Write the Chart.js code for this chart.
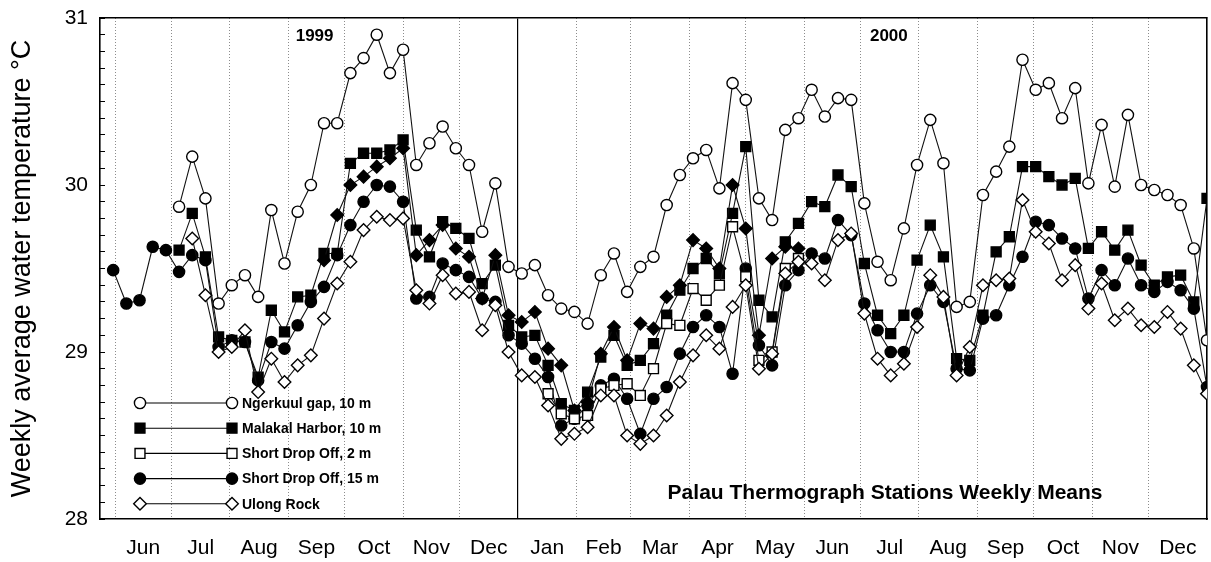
<!DOCTYPE html>
<html><head><meta charset="utf-8">
<script src="https://cdn.jsdelivr.net/npm/chart.js@4/dist/chart.umd.min.js"></script>
<style>html,body{margin:0;padding:0;background:#fff;}#wrap{position:relative;width:1211px;height:562px;}</style>
</head><body><div id="wrap"><canvas id="c" width="1211" height="562"></canvas></div>
<script>
// ---------- data ----------
const weekDates = [
 '1999-05-31','1999-06-07','1999-06-14','1999-06-21','1999-06-28','1999-07-05','1999-07-12','1999-07-19','1999-07-26',
 '1999-08-02','1999-08-09','1999-08-16','1999-08-23','1999-08-30','1999-09-06','1999-09-13','1999-09-20','1999-09-27',
 '1999-10-04','1999-10-11','1999-10-18','1999-10-25','1999-11-01','1999-11-08','1999-11-15','1999-11-22','1999-11-29',
 '1999-12-06','1999-12-13','1999-12-20','1999-12-27','2000-01-03','2000-01-10','2000-01-17','2000-01-24','2000-01-31',
 '2000-02-07','2000-02-14','2000-02-21','2000-02-28','2000-03-06','2000-03-13','2000-03-20','2000-03-27','2000-04-03',
 '2000-04-10','2000-04-17','2000-04-24','2000-05-01','2000-05-08','2000-05-15','2000-05-22','2000-05-29','2000-06-05',
 '2000-06-12','2000-06-19','2000-06-26','2000-07-03','2000-07-10','2000-07-17','2000-07-24','2000-07-31','2000-08-07',
 '2000-08-14','2000-08-21','2000-08-28','2000-09-04','2000-09-11','2000-09-18','2000-09-25','2000-10-02','2000-10-09',
 '2000-10-16','2000-10-23','2000-10-30','2000-11-06','2000-11-13','2000-11-20','2000-11-27','2000-12-04','2000-12-11',
 '2000-12-18','2000-12-25','2001-01-01'];

const monthStarts = ['1999-06-01','1999-07-01','1999-08-01','1999-09-01','1999-10-01','1999-11-01','1999-12-01',
 '2000-01-01','2000-02-01','2000-03-01','2000-04-01','2000-05-01','2000-06-01','2000-07-01','2000-08-01','2000-09-01',
 '2000-10-01','2000-11-01','2000-12-01','2001-01-01'];
const monthLabels = ['Jun','Jul','Aug','Sep','Oct','Nov','Dec','Jan','Feb','Mar','Apr','May','Jun','Jul','Aug','Sep','Oct','Nov','Dec'];
const yearLabels = ['1999','2000'];
const yearLabelDates = ['1999-09-15','2000-07-16'];
const yearBreakDate = '2000-01-01';
const yMajorTicks = [28,29,30,31];
const chartTitle = 'Palau Thermograph Stations Weekly Means';
const chartTitleDate = '2000-07-14';
const yTitle = 'Weekly average water temperature °C';

const ngerkuul = [null,null,null,null,null,29.87,30.17,29.92,29.29,29.40,29.46,29.33,29.85,29.53,29.84,30.00,30.37,30.37,
 30.67,30.76,30.90,30.67,30.81,30.12,30.25,30.35,30.22,30.12,29.72,30.01,29.51,29.47,29.52,29.34,29.26,29.24,29.17,29.46,
 29.59,29.36,29.51,29.57,29.88,30.06,30.16,30.21,29.98,30.61,30.51,29.92,29.79,30.33,30.40,30.57,30.41,30.52,30.51,29.89,
 29.54,29.43,29.74,30.12,30.39,30.13,29.27,29.30,29.94,30.08,30.23,30.75,30.57,30.61,30.40,30.58,30.01,30.36,29.99,30.42,
 30.00,29.97,29.94,29.88,29.62,29.07];
const malakal = [null,null,null,null,null,29.61,29.83,29.57,29.09,29.07,29.06,28.85,29.25,29.12,29.33,29.34,29.59,29.59,
 30.13,30.19,30.19,30.21,30.27,29.73,29.57,29.78,29.74,29.68,29.41,29.52,29.16,29.09,29.10,28.92,28.69,28.65,28.76,28.97,
 29.10,28.92,28.95,29.05,29.22,29.37,29.50,29.56,29.47,29.83,30.23,29.31,29.21,29.66,29.77,29.90,29.87,30.06,29.99,29.53,
 29.22,29.11,29.22,29.55,29.76,29.57,28.96,28.95,29.22,29.60,29.69,30.11,30.11,30.05,30.00,30.04,29.62,29.72,29.61,29.73,
 29.52,29.40,29.45,29.46,29.30,29.92];
const shortDrop2 = [null,null,null,null,null,null,null,null,null,null,null,null,null,null,null,null,null,null,
 null,null,null,null,null,null,null,null,null,null,null,null,null,null,null,28.75,28.63,28.60,28.62,28.78,
 28.80,28.81,28.74,28.90,29.17,29.16,29.38,29.31,29.40,29.75,29.45,28.95,29.00,29.50,29.56,null,null,null,null,null,
 null,null,null,null,null,null,null,null,null,null,null,null,null,null,null,null,null,null,null,null,
 null,null,null,null,null,null];
const shortDrop15 = [29.49,29.29,29.31,29.63,29.61,29.48,29.58,29.55,29.03,29.07,29.06,28.83,29.06,29.02,29.16,29.30,29.39,29.58,
 29.76,29.90,30.00,29.99,29.90,29.32,29.33,29.53,29.49,29.45,29.32,29.30,29.10,29.05,28.96,28.85,28.56,28.60,28.68,28.80,
 28.84,28.72,28.51,28.72,28.79,28.99,29.15,29.22,29.15,28.87,29.50,29.04,28.92,29.40,29.49,29.59,29.56,29.79,29.70,29.29,
 29.13,29.00,29.00,29.23,29.40,29.30,28.90,28.89,29.20,29.22,29.40,29.57,29.78,29.76,29.68,29.62,29.32,29.49,29.40,29.56,
 29.40,29.36,29.42,29.37,29.26,28.79];
const ulongRock = [null,null,null,null,null,null,29.68,29.34,29.00,29.03,29.13,28.76,28.96,28.82,28.92,28.98,29.20,29.41,
 29.54,29.73,29.81,29.79,29.80,29.37,29.29,29.46,29.35,29.36,29.13,29.28,29.00,28.86,28.85,28.68,28.48,28.51,28.55,28.74,
 28.74,28.50,28.45,28.50,28.62,28.82,28.98,29.10,29.02,29.27,29.40,28.90,28.99,29.47,29.54,29.53,29.43,29.67,29.71,29.23,
 28.96,28.86,28.93,29.15,29.46,29.33,28.86,29.03,29.40,29.43,29.44,29.91,29.72,29.65,29.43,29.52,29.26,29.41,29.19,29.26,
 29.16,29.15,29.24,29.14,28.92,28.75];
const unlabelled = [null,null,null,null,null,null,null,null,null,null,null,null,null,null,null,null,29.55,29.82,
 30.00,30.05,30.11,30.16,30.22,29.58,29.67,29.76,29.62,29.57,29.32,29.58,29.22,29.18,29.24,29.02,28.92,28.65,28.70,28.99,
 29.15,28.95,29.17,29.14,29.33,29.40,29.67,29.62,29.50,30.00,29.74,29.10,29.56,29.63,29.62,null,null,null,null,null,
 null,null,null,null,null,null,null,null,null,null,null,null,null,null,null,null,null,null,null,null,
 null,null,null,null,null,null];

// ---------- helpers ----------
const FONT = '"Liberation Sans", Arial, Helvetica, sans-serif';
const ORIGIN = Date.UTC(1999,5,1);
const toDay = s => { const [y,m,d] = s.split('-').map(Number); return (Date.UTC(y,m-1,d) - ORIGIN) / 86400000; };
const xs = weekDates.map(toDay);
const boundaryDays = monthStarts.map(toDay);
const centerDays = monthLabels.map((_, i) => (boundaryDays[i] + boundaryDays[i+1]) / 2);
const yearBreak = toDay(yearBreakDate);
const X_MIN = toDay('1999-05-24');
const X_MAX = toDay('2001-01-01');
const pts = arr => arr.map((v, i) => ({x: xs[i], y: v}));
const zeroPad = s => { s.paddingLeft = 0; s.paddingRight = 0; s.paddingTop = 0; s.paddingBottom = 0; };

const seriesDefs = [
  {label:'Ngerkuul gap, 10 m',   data: ngerkuul,    style:'circle',  fill:'#fff', r:5.6, legend:true},
  {label:'Malakal Harbor, 10 m', data: malakal,     style:'rect',    fill:'#000', r:7.0, legend:true},
  {label:'Short Drop Off, 2 m',  data: shortDrop2,  style:'rect',    fill:'#fff', r:7.0, legend:true},
  {label:'Short Drop Off, 15 m', data: shortDrop15, style:'circle',  fill:'#000', r:5.6, legend:true},
  {label:'Ulong Rock',           data: ulongRock,   style:'rectRot', fill:'#fff', r:6.3, legend:true},
  {label:'(unlabelled station)', data: unlabelled,  style:'rectRot', fill:'#000', r:6.3, legend:false}
];

const drawOrder = [0,4,2,3,5,1];
const datasets = drawOrder.map(k => {
  const s = seriesDefs[k];
  return {
    label: s.label, data: pts(s.data), borderColor:'#111', borderWidth:1.1,
    pointStyle: s.style, pointRadius: s.r, pointBackgroundColor: s.fill,
    pointBorderColor:'#000', pointBorderWidth:1.4, tension:0, spanGaps:false
  };
});

const annotations = {
  id:'annotations',
  afterDraw(chart) {
    const {ctx, chartArea: a, scales} = chart;
    const xsc = scales.x;
    ctx.save();
    ctx.fillStyle = '#000';
    ctx.textAlign = 'center'; ctx.textBaseline = 'middle';
    ctx.font = 'bold 17px ' + FONT;
    yearLabels.forEach((t, i) => ctx.fillText(t, xsc.getPixelForValue(toDay(yearLabelDates[i])), a.top + 18));
    ctx.font = 'bold 21px ' + FONT;
    ctx.fillText(chartTitle, xsc.getPixelForValue(toDay(chartTitleDate)), a.bottom - 26);
    // legend
    const lx1 = a.left + 40, lx2 = a.left + 132, ly0 = a.bottom - 116, step = 25.2;
    ctx.font = 'bold 14px ' + FONT;
    ctx.textAlign = 'left';
    seriesDefs.filter(s => s.legend).forEach((s, i) => {
      const y = ly0 + i * step;
      ctx.strokeStyle = '#000'; ctx.lineWidth = 1.1;
      ctx.beginPath(); ctx.moveTo(lx1, y); ctx.lineTo(lx2, y); ctx.stroke();
      [lx1, lx2].forEach(x => {
        ctx.fillStyle = s.fill; ctx.strokeStyle = '#000'; ctx.lineWidth = 1.4;
        Chart.helpers.drawPoint(ctx, {pointStyle: s.style, radius: s.r, borderWidth: 1.4, rotation: 0}, x, y);
      });
      ctx.fillStyle = '#000';
      ctx.fillText(s.label, lx2 + 10, y + 1);
    });
    ctx.restore();
  }
};

new Chart(document.getElementById('c'), {
  type: 'line',
  data: { datasets },
  options: {
    responsive: false, animation: false, devicePixelRatio: 1,
    layout: { autoPadding: false, padding: { left: 0, right: 4, top: 18, bottom: 0 } },
    plugins: { legend: { display: false }, tooltip: { enabled: false } },
    elements: { line: { fill: false } },
    scales: {
      x: {
        type: 'linear', position: 'bottom', weight: 0, min: X_MIN, max: X_MAX,
        afterBuildTicks: s => { s.ticks = boundaryDays.filter(d => d !== yearBreak && d < X_MAX).map(v => ({value: v})); },
        ticks: { display: false },
        grid: { color: '#8c8c8c', lineWidth: 1, drawTicks: false },
        border: { display: true, color: '#000', width: 1.6, dash: [1, 2] },
        afterFit: s => { s.height = 0; zeroPad(s); }
      },
      xLab: {
        type: 'linear', position: 'bottom', weight: 5, min: X_MIN, max: X_MAX,
        afterBuildTicks: s => { s.ticks = centerDays.map(v => ({value: v})); },
        ticks: { autoSkip: false, maxRotation: 0, color: '#000', padding: 17,
                 font: { size: 21, family: FONT }, callback: (v, i) => monthLabels[i] },
        grid: { display: false, drawTicks: false },
        border: { display: false },
        afterFit: s => { s.height = 43; zeroPad(s); }
      },
      xTop: {
        type: 'linear', position: 'top', min: X_MIN, max: X_MAX,
        afterBuildTicks: s => { s.ticks = [{value: yearBreak}]; },
        ticks: { display: false },
        grid: { color: '#000', lineWidth: 1.2, drawTicks: false },
        border: { display: true, color: '#000', width: 1.6 },
        afterFit: s => { s.height = 0; zeroPad(s); }
      },
      y: {
        type: 'linear', position: 'left', min: 28, max: 31,
        afterBuildTicks: s => { const t = []; for (let k = 0; k <= 30; k++) t.push({value: 28 + k / 10}); s.ticks = t; },
        ticks: { autoSkip: false, color: '#000', padding: 17, font: { size: 21, family: FONT },
                 callback: v => { const r = Math.round(v * 10) / 10; return yMajorTicks.includes(r) ? String(r) : ''; } },
        grid: { drawOnChartArea: false, drawTicks: true, tickLength: -5, color: '#000', lineWidth: 1 },
        border: { display: true, color: '#000', width: 1.6 },
        title: { display: true, text: yTitle, color: '#000', font: { size: 27, family: FONT }, padding: { top: 6, bottom: 0 } },
        afterFit: s => { s.width = 100; zeroPad(s); }
      },
      yRight: {
        type: 'linear', position: 'right', min: 28, max: 31,
        ticks: { display: false }, grid: { display: false, drawTicks: false },
        border: { display: true, color: '#000', width: 1.6 },
        afterFit: s => { s.width = 0; zeroPad(s); }
      }
    }
  },
  plugins: [annotations]
});
</script></body></html>
